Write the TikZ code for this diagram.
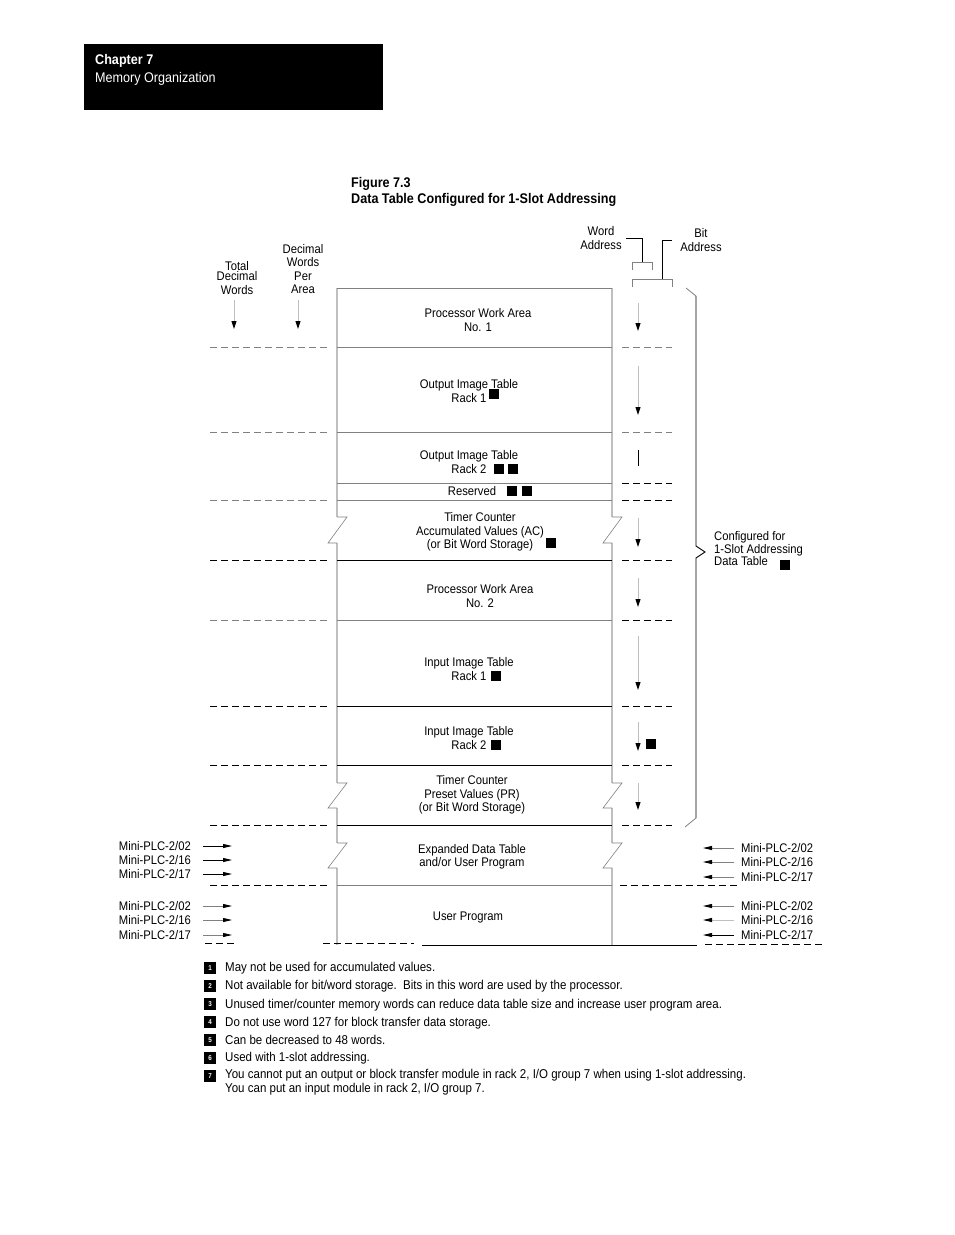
\documentclass[tikz,border=0pt]{standalone}
\usepackage{fontspec}
\setmainfont{Liberation Sans}[FakeStretch=0.9]
\usetikzlibrary{arrows.meta}
\definecolor{lightRule}{gray}{0.75}
\definecolor{midRule}{gray}{0.5}
\tikzset{
  font={\fontsize{12.5pt}{13.5pt}\selectfont},
  areaLabel/.style={align=center},
  headText/.style={anchor=west, font={\fontsize{14pt}{15pt}\selectfont}},
  noteText/.style={anchor=west, font={\fontsize{12.8pt}{13.8pt}\selectfont}},
  noteMark/.style={fill=black, minimum size=10pt},
  noteBox/.style={fill=black, text=white, minimum size=12pt, font={\fontsize{7pt}{7pt}\selectfont\bfseries}},
  colLine/.style={lightRule, line width=1.4pt},
  sepGrey/.style={midRule, line width=0.8pt},
  sepDark/.style={black, line width=0.8pt},
  dashGrey/.style={midRule, line width=0.8pt, dash pattern=on 7pt off 4pt},
  dashDark/.style={black, line width=0.8pt, dash pattern=on 7pt off 4pt},
  downArrow/.style={lightRule, line width=1pt, -{Triangle[length=8pt,width=5pt,color=black]}},
  plcArrow/.style={line width=0.8pt, -{Triangle[length=9pt,width=4pt,color=black]}},
}

\begin{document}
\begin{tikzpicture}[x=1pt,y=-1pt]
\tikzstyle{every node}+=[inner sep=0pt]
\useasboundingbox (0,0) rectangle (954,1235);

% chapter header
\fill[black] (84,44) rectangle (383,110);
\node[headText, text=white, font={\fontsize{14pt}{15pt}\selectfont\bfseries}] (chap) at (95,61) {Chapter 7};
\node[headText, text=white] (chapName) at (95,79) {Memory Organization};

% figure title
\node[headText, font={\fontsize{14pt}{15pt}\selectfont\bfseries}] (figNo) at (351,184) {Figure 7.3};
\node[headText, font={\fontsize{14pt}{15pt}\selectfont\bfseries}] (figTitle) at (351,200) {Data Table Configured for 1-Slot Addressing};

% column headings
\node[areaLabel] (totalWords) at (237,278) {Total\\[-3pt]Decimal\\Words};
\node[areaLabel] (areaWords) at (303,269) {Decimal\\Words\\Per\\Area};
\node[areaLabel] (wordAddr) at (601,238) {Word\\Address};
\node[areaLabel] (bitAddr) at (701,240) {Bit\\Address};
\draw[downArrow] (234,300) -- (234,329);
\draw[downArrow] (298,300) -- (298,329);

% address brackets
\draw[line width=0.8pt] ([xshift=4pt]wordAddr.east) -| (642,262);
\draw[midRule, line width=0.8pt] (632,270) -- (632,262) -- (652,262) -- (652,270);
\draw[line width=0.8pt] ([xshift=-8pt]bitAddr.west) -| (662,279);
\draw[midRule, line width=0.8pt] (632,287) -- (632,279) -- (672,279) -- (672,287);

% column sides with breaks
\foreach \sx in {337,612} {
  \draw[colLine] (\sx,288) -- (\sx,517);
  \draw[colLine] (\sx,543) -- (\sx,783);
  \draw[colLine] (\sx,808) -- (\sx,843);
  \draw[colLine] (\sx,868) -- (\sx,945);
  \foreach \by/\bh in {517/26,783/25,843/25} {
    \draw[midRule, line width=0.6pt] (\sx,\by) -- ++(10,0) -- ++(-19,\bh) -- ++(9,0);
  }
}

% separators
\draw[sepGrey] (337,288) -- (612,288);
\foreach \sy in {347,432,483,500,620,885}
  \draw[sepGrey] (337,\sy) -- (612,\sy);
\foreach \sy in {560,706,765,825}
  \draw[sepDark] (337,\sy) -- (612,\sy);

% left dashes
\foreach \sy in {347,432,500,620}
  \draw[dashGrey] (210,\sy) -- (328,\sy);
\foreach \sy in {560,706,765,825,885}
  \draw[dashDark] (210,\sy) -- (328,\sy);
\draw[dashDark] (205,943) -- (234,943);
\draw[dashDark] (323,943) -- (414,943);
\draw[sepDark] (422,945) -- (697,945);

% right dashes
\foreach \sy in {347,432}
  \draw[dashGrey] (622,\sy) -- (672,\sy);
\foreach \sy in {483,500,560,620,706,765,825}
  \draw[dashDark] (622,\sy) -- (672,\sy);
\draw[dashDark] (620,885) -- (740,885);
\draw[dashDark] (705,944) -- (824,944);

% word direction arrows
\draw[downArrow] (638,303) -- (638,331);
\draw[downArrow] (638,366) -- (638,415);
\draw[line width=0.8pt] (638,450) -- (638,466);
\draw[downArrow] (638,518) -- (638,547);
\draw[downArrow] (638,578) -- (638,607);
\draw[downArrow] (638,636) -- (638,690);
\draw[downArrow] (638,722) -- (638,751);
\draw[downArrow] (638,783) -- (638,810);
\node[noteMark] (markBit) at (651,744) {};

% area labels
\node[areaLabel] (pwa1) at (478,320) {Processor Work Area\\No. 1};
\node[areaLabel] (outR1) at (469,391) {Output Image Table\\Rack 1};
\node[noteMark] at (494,394) {};
\node[areaLabel] (outR2) at (469,462) {Output Image Table\\Rack 2};
\node[noteMark] at (499,469) {};
\node[noteMark] at (513,469) {};
\node (resv) at (472,491) {Reserved};
\node[noteMark] at (512,491) {};
\node[noteMark] at (527,491) {};
\node[areaLabel] (tcAC) at (480,532) {Timer Counter\\Accumulated Values (AC)\\(or Bit Word Storage)};
\node[noteMark] at (551,543) {};
\node[areaLabel] (pwa2) at (480,596) {Processor Work Area\\No. 2};
\node[areaLabel] (inR1) at (469,669) {Input Image Table\\Rack 1};
\node[noteMark] at (496,676) {};
\node[areaLabel] (inR2) at (469,738) {Input Image Table\\Rack 2};
\node[noteMark] at (496,745) {};
\node[areaLabel] (tcPR) at (472,795) {Timer Counter\\Preset Values (PR)\\(or Bit Word Storage)};
\node[areaLabel] (expTable) at (472,857) {Expanded Data Table\\and/or User Program};
\node (userProg) at (468,917) {User Program};

% data table brace
\draw[midRule, line width=0.8pt] (686,288) -- (696,296);
\draw[line width=0.9pt] (696,296) -- (696,546) -- (705,552) -- (696,558) -- (696,818);
\draw[midRule, line width=0.8pt] (696,818) -- (685,827);
\node[anchor=west, align=left] (cfgLabel) at (714,549) {Configured for\\[-1pt]1-Slot Addressing\\[-1pt]Data Table};
\node[noteMark] at (785,565) {};

% processor labels, left
\foreach \py/\pn/\pc in {846/02/black,860/16/black,874/17/black,906/02/midRule,920/16/midRule,935/17/midRule} {
  \node[anchor=east] (pl\py) at (191,\py) {Mini-PLC-2/\pn};
  \draw[plcArrow, \pc] ([xshift=12pt]pl\py.east) -- ([xshift=41pt]pl\py.east);
}
% processor labels, right
\foreach \py/\pn/\pc in {848/02/midRule,862/16/midRule,877/17/midRule,906/02/midRule,920/16/lightRule,935/17/black} {
  \node[anchor=west] (pr\py) at (741,\py) {Mini-PLC-2/\pn};
  \draw[plcArrow, \pc] ([xshift=-7pt]pr\py.west) -- ([xshift=-38pt]pr\py.west);
}

% footnotes
\node[noteBox] (fn1) at (210,968) {1};
\node[noteText] at (225,968) {May not be used for accumulated values.};
\node[noteBox] (fn2) at (210,986) {2};
\node[noteText] at (225,986) {Not available for bit/word storage.\ \ Bits in this word are used by the processor.};
\node[noteBox] (fn3) at (210,1004) {3};
\node[noteText] at (225,1005) {Unused timer/counter memory words can reduce data table size and increase user program area.};
\node[noteBox] (fn4) at (210,1022) {4};
\node[noteText] at (225,1023) {Do not use word 127 for block transfer data storage.};
\node[noteBox] (fn5) at (210,1040) {5};
\node[noteText] at (225,1040) {Can be decreased to 48 words.};
\node[noteBox] (fn6) at (210,1058) {6};
\node[noteText] at (225,1058) {Used with 1-slot addressing.};
\node[noteBox] (fn7) at (210,1076) {7};
\node[noteText, anchor=north west, align=left] at (225,1069) {You cannot put an output or block transfer module in rack 2, I/O group 7 when using 1-slot addressing.\\You can put an input module in rack 2, I/O group 7.};
\end{tikzpicture}
\end{document}
